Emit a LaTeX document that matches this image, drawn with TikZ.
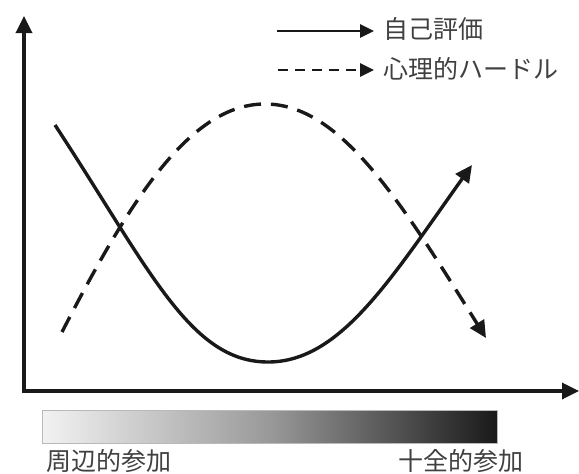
\documentclass[tikz,border=0pt]{standalone}
\usepackage{fontspec}
\newfontfamily\cjk{Noto Sans CJK JP}
\usetikzlibrary{arrows.meta}
\begin{document}
\begin{tikzpicture}[x=1pt,y=-1pt,
  ln/.style={line width=3.4pt,color=black!90},
  tip/.style={-{Triangle[length=17pt,width=16pt]}},
  lbl/.style={font=\cjk\fontsize{25}{27}\selectfont,text=black!75,inner sep=0pt,anchor=west}]
\useasboundingbox (0,0) rectangle (579,474);
% axes
\coordinate (o) at (24,391);
\coordinate (ytop) at (24,16);
\coordinate (xend) at (579,391);
\draw[ln,tip] ([yshift=1.7pt]o) -- (ytop);
\draw[ln,tip] ([xshift=-1.7pt]o) -- (xend);
% curves
\coordinate (s0) at (55,125);
\coordinate (smin) at (268,362);
\coordinate (s1) at (472,165);
\draw[ln,tip] (s0) .. controls (150,270) and (190,362) .. (smin) .. controls (340,362) and (390,280) .. (s1);
\coordinate (d0) at (62,332);
\coordinate (dmax) at (265,104);
\coordinate (d1) at (486,338);
\draw[ln,tip,dash pattern=on 17pt off 10pt] (d0) .. controls (130,200) and (190,104) .. (dmax) .. controls (340,104) and (400,200) .. (d1);
% legend
\coordinate (l1a) at (277,31);
\coordinate (l1b) at (374,31);
\coordinate (l2a) at (278,70);
\coordinate (l2b) at (374,70);
\draw[line width=2.6pt,black!90,-{Triangle[length=14pt,width=13pt]}] (l1a) -- (l1b);
\draw[line width=2.6pt,black!90,-{Triangle[length=14pt,width=13pt]},dash pattern=on 10pt off 7pt] (l2a) -- (l2b);
\node[lbl] (t1) at (383,29) {自己評価};
\node[lbl] (t2) at (383,69) {心理的ハードル};
% gradient bar
\shade[left color=black!5,right color=black!90,middle color=black!40,draw=gray!55,line width=1pt] (42,410) rectangle (497,443);
\node[lbl] (p1) at (46,461) {周辺的参加};
\node[lbl,anchor=east] (p2) at (524,461) {十全的参加};
\end{tikzpicture}
\end{document}
